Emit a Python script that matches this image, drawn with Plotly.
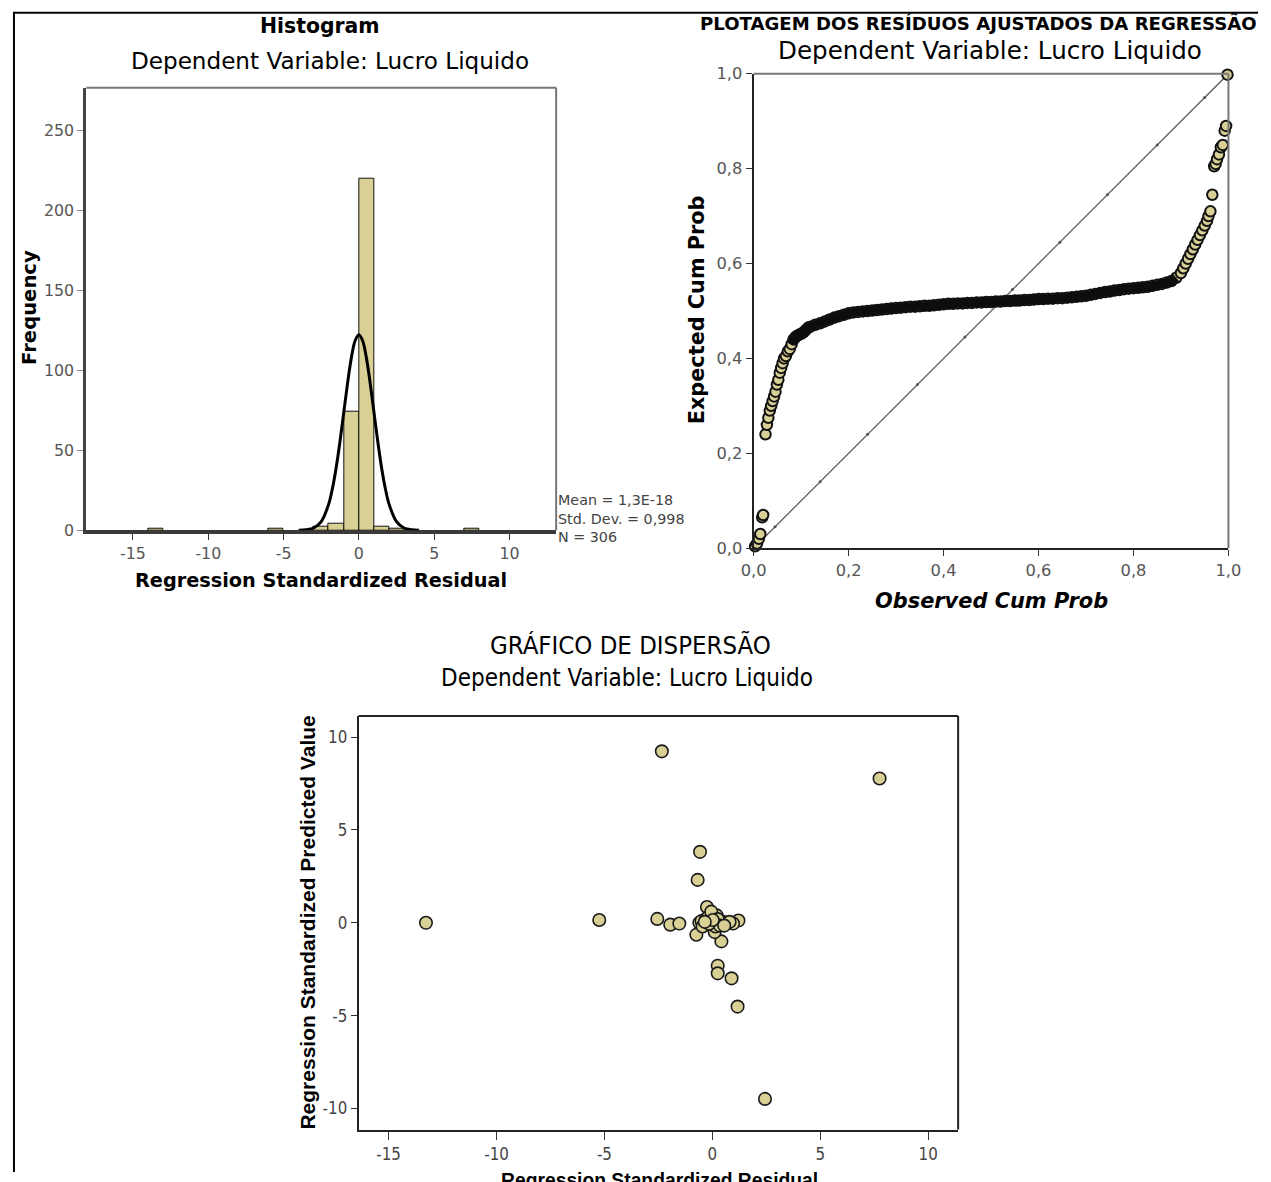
import plotly.graph_objects as go

W, H = 1271, 1182

# ---------------- data ----------------
hist_bin_centers = [-13.5, -5.5, -2.5, -1.5, -0.5, 0.5, 1.5, 2.5, 7.5]
hist_counts = [1, 1, 2, 4, 74, 220, 2, 1, 1]
hist_xticks = [-15, -10, -5, 0, 5, 10]
hist_xticktext = ["-15", "-10", "-5", "0", "5", "10"]
hist_yticks = [0, 50, 100, 150, 200, 250]
curve_x = [-4.0, -3.5, -3.0, -2.5, -2.0, -1.75, -1.5, -1.25, -1.0, -0.75, -0.5, -0.25, 0.0,
           0.25, 0.5, 0.75, 1.0, 1.25, 1.5, 1.75, 2.0, 2.5, 3.0, 3.5, 4.0]
curve_y = [0.04, 0.3, 1.4, 5.4, 16.5, 26.4, 39.6, 55.9, 74.0, 92.1, 107.9, 118.6, 122.3,
           118.6, 107.9, 92.1, 74.0, 55.9, 39.6, 26.4, 16.5, 5.4, 1.4, 0.3, 0.04]
stats_text = ["Mean = 1,3E-18", "Std. Dev. = 0,998", "N = 306"]

pp_observed = [0.003, 0.007, 0.011, 0.014, 0.018, 0.020, 0.025, 0.028, 0.031, 0.034, 0.037, 0.040,
               0.043, 0.046, 0.049, 0.052, 0.055, 0.058, 0.061, 0.064, 0.068, 0.072, 0.076, 0.080,
               0.084, 0.088, 0.092, 0.096, 0.100, 0.105, 0.110, 0.115,
               0.12, 0.13, 0.14, 0.15, 0.16, 0.17, 0.18, 0.19, 0.20, 0.21, 0.22, 0.23, 0.24, 0.25,
               0.26, 0.27, 0.28, 0.29, 0.30, 0.31, 0.32, 0.33, 0.34, 0.35, 0.36, 0.37, 0.38, 0.39,
               0.40, 0.41, 0.42, 0.43, 0.44, 0.45, 0.46, 0.47, 0.48, 0.49, 0.50, 0.51, 0.52, 0.53,
               0.54, 0.55, 0.56, 0.57, 0.58, 0.59, 0.60, 0.61, 0.62, 0.63, 0.64, 0.65, 0.66, 0.67,
               0.68, 0.69, 0.70, 0.71, 0.72, 0.73, 0.74, 0.75, 0.76, 0.77, 0.78, 0.79, 0.80, 0.81,
               0.82, 0.83, 0.84, 0.85, 0.86, 0.87, 0.88, 0.89,
               0.900, 0.905, 0.910, 0.915, 0.920, 0.925, 0.930, 0.935, 0.940, 0.945, 0.950, 0.955,
               0.958, 0.962, 0.966, 0.970, 0.973, 0.976, 0.980, 0.984, 0.988, 0.992, 0.995, 0.998]
pp_expected = [0.004, 0.010, 0.020, 0.030, 0.065, 0.070, 0.240, 0.260, 0.275, 0.290, 0.300, 0.310,
               0.320, 0.330, 0.345, 0.355, 0.370, 0.380, 0.390, 0.400, 0.405, 0.415, 0.420, 0.430,
               0.440, 0.445, 0.448, 0.450, 0.452, 0.455, 0.460, 0.465,
               0.467, 0.471, 0.474, 0.478, 0.482, 0.486, 0.489, 0.492, 0.495, 0.497, 0.498, 0.499,
               0.500, 0.501, 0.502, 0.503, 0.504, 0.505, 0.506, 0.507, 0.508, 0.509, 0.509, 0.510,
               0.511, 0.511, 0.512, 0.513, 0.514, 0.515, 0.515, 0.516, 0.516, 0.517, 0.517, 0.518,
               0.518, 0.519, 0.519, 0.520, 0.520, 0.521, 0.521, 0.522, 0.522, 0.523, 0.523, 0.524,
               0.525, 0.525, 0.526, 0.526, 0.527, 0.527, 0.528, 0.529, 0.530, 0.531, 0.532, 0.534,
               0.536, 0.538, 0.540, 0.541, 0.543, 0.544, 0.546, 0.547, 0.548, 0.549, 0.550, 0.551,
               0.553, 0.555, 0.557, 0.560, 0.563, 0.570,
               0.580, 0.590, 0.600, 0.610, 0.620, 0.630, 0.640, 0.650, 0.660, 0.670, 0.680, 0.690,
               0.700, 0.710, 0.745, 0.805, 0.810, 0.820, 0.830, 0.845, 0.850, 0.880, 0.890, 0.998]
pp_ref_x = [0.0, 0.045, 0.14, 0.24, 0.345, 0.445, 0.545, 0.645, 0.745, 0.85, 0.95, 1.0]
pp_ticks = [0.0, 0.2, 0.4, 0.6, 0.8, 1.0]
pp_ticktext = ["0,0", "0,2", "0,4", "0,6", "0,8", "1,0"]

sc_resid = [-13.27, -5.24, -2.34, 7.75, 2.44, -0.57, -0.68, -2.55, -1.95, -1.53, -0.74, 0.42,
            0.25, 0.25, 0.89, 1.17, -0.25, 1.21, 0.96, 0.11,
            -0.60, -0.50, -0.40, -0.30, -0.20, -0.10, 0.00, 0.05, 0.10, 0.20, 0.15, 0.30,
            0.40, 0.50, 0.60, 0.70, 0.80, -0.45, -0.05, 0.25, 0.35, -0.15, 0.02, -0.35, 0.55]
sc_pred = [0.00, 0.15, 9.23, 7.77, -9.48, 3.82, 2.31, 0.21, -0.10, -0.04, -0.64, -1.00,
           -2.31, -2.72, -2.99, -4.51, 0.85, 0.12, -0.04, -0.50,
           0.00, 0.10, -0.10, 0.20, 0.30, 0.05, 0.00, -0.10, 0.10, 0.40, -0.20, -0.05,
           0.00, 0.05, -0.05, 0.00, 0.05, -0.20, 0.60, 0.20, -0.15, -0.05, 0.15, 0.05, -0.15]
sc_xticks = [-15, -10, -5, 0, 5, 10]
sc_xticktext = ["-15", "-10", "-5", "0", "5", "10"]
sc_yticks = [-10, -5, 0, 5, 10]
sc_yticktext = ["-10", "-5", "0", "5", "10"]

# ---------------- layout helpers ----------------
TAN = "#d9d095"
# the photographed page shows up slightly shrunk and inset; positions below are
# given in reference-picture pixels and mapped back to page fractions
SX, OX = 0.982, 10.5
SY, OY = 0.985, 8.2


def px(x):
    return ((x - OX) / SX) / W


def py(y):
    return 1 - ((y - OY) / SY) / H


def fs(s):
    return round(s / SX, 1)


# P-P band (dense middle run where the markers merge into a dark band)
band_lo, band_hi = 0.08, 0.895
band_x = [o for o in pp_observed if band_lo <= o <= band_hi]
band_y = [e for o, e in zip(pp_observed, pp_expected) if band_lo <= o <= band_hi]

fig = go.Figure()

fig.add_trace(go.Bar(x=hist_bin_centers, y=hist_counts, width=1,
                     marker=dict(color=TAN, line=dict(color="#111", width=1)),
                     xaxis="x", yaxis="y", showlegend=False))
fig.add_trace(go.Scatter(x=curve_x, y=curve_y, mode="lines",
                         line=dict(color="black", width=3, shape="spline"),
                         xaxis="x", yaxis="y", showlegend=False))

fig.add_trace(go.Scatter(x=pp_ref_x, y=pp_ref_x, mode="lines+markers",
                         line=dict(color="#555", width=1.2), marker=dict(size=3, color="#555"),
                         xaxis="x2", yaxis="y2", showlegend=False))
fig.add_trace(go.Scatter(x=pp_observed, y=pp_expected, mode="markers",
                         marker=dict(size=10.5, color=TAN, line=dict(color="#111", width=2)),
                         xaxis="x2", yaxis="y2", showlegend=False, cliponaxis=False))
fig.add_trace(go.Scatter(x=band_x, y=band_y, mode="lines",
                         line=dict(color="#0d0d0d", width=9, shape="spline"),
                         xaxis="x2", yaxis="y2", showlegend=False))

fig.add_trace(go.Scatter(x=sc_resid, y=sc_pred, mode="markers",
                         marker=dict(size=12.5, color=TAN, line=dict(color="#1a1a1a", width=1.6)),
                         xaxis="x3", yaxis="y3", showlegend=False))

axis_common = dict(showgrid=False, zeroline=False, ticks="outside", ticklen=6, tickcolor="#333",
                   showline=True, linecolor="#222", fixedrange=True)
hist_font = dict(family="DejaVu Sans", size=fs(15.5), color="#555")
pp_font = dict(family="DejaVu Sans", size=fs(16), color="#555")
sc_font = dict(family="Liberation Sans Narrow, DejaVu Sans Condensed", size=fs(16.5), color="#444")

fig.update_layout(
    width=W, height=H, margin=dict(l=0, r=0, t=0, b=0),
    paper_bgcolor="white", plot_bgcolor="white", bargap=0,
    xaxis=dict(axis_common, domain=[px(84), px(555)], range=[-18.1, 13.1], tickvals=hist_xticks,
               ticktext=hist_xticktext, tickfont=hist_font, linewidth=4, linecolor="#3a3a3a",
               anchor="y", layer="below traces"),
    yaxis=dict(axis_common, domain=[py(530), py(87)], range=[0, 277], tickvals=hist_yticks,
               tickfont=hist_font, linewidth=3, linecolor="#444", tickcolor="#888", anchor="x"),
    xaxis2=dict(axis_common, domain=[px(753), px(1229)], range=[0, 1], tickvals=pp_ticks,
                ticktext=pp_ticktext, tickfont=pp_font, linewidth=2, anchor="y2"),
    yaxis2=dict(axis_common, domain=[py(548), py(73)], range=[0, 1], tickvals=pp_ticks,
                ticktext=pp_ticktext, tickfont=pp_font, linewidth=2, anchor="x2"),
    xaxis3=dict(axis_common, domain=[px(357), px(958)], range=[-16.39, 11.39], tickvals=sc_xticks,
                ticktext=sc_xticktext, tickfont=sc_font, linewidth=2, ticklen=8, anchor="y3"),
    yaxis3=dict(axis_common, domain=[py(1130), py(716)], range=[-11.13, 11.13], tickvals=sc_yticks,
                ticktext=sc_yticktext, tickfont=sc_font, linewidth=2, anchor="x3"),
)

shapes = [
    dict(type="line", xref="paper", yref="paper", x0=1 / W, x1=1 / W, y0=py(12), y1=0,
         line=dict(color="black", width=2)),
    dict(type="line", xref="paper", yref="paper", x0=0, x1=1, y0=py(12), y1=py(12),
         line=dict(color="black", width=2)),
    dict(type="line", xref="x domain", yref="y domain", x0=0, x1=1, y0=1, y1=1,
         line=dict(color="#777", width=2)),
    dict(type="line", xref="x domain", yref="y domain", x0=1, x1=1, y0=0, y1=1,
         line=dict(color="#777", width=2)),
    dict(type="line", xref="x2 domain", yref="y2 domain", x0=0, x1=1, y0=1, y1=1,
         line=dict(color="#777", width=2)),
    dict(type="line", xref="x2 domain", yref="y2 domain", x0=1, x1=1, y0=0, y1=1,
         line=dict(color="#777", width=2)),
    dict(type="line", xref="x3 domain", yref="y3 domain", x0=0, x1=1, y0=1, y1=1,
         line=dict(color="#222", width=2)),
    dict(type="line", xref="x3 domain", yref="y3 domain", x0=1, x1=1, y0=0, y1=1,
         line=dict(color="#222", width=2)),
]
fig.update_layout(shapes=shapes)


def ann(text, x, y, size, family="DejaVu Sans", bold=False, italic=False, angle=0, color="black",
        xanchor="center", yanchor="middle", align="center"):
    t = text
    if bold:
        t = "<b>" + t + "</b>"
    if italic:
        t = "<i>" + t + "</i>"
    return dict(text=t, x=px(x), y=py(y), xref="paper", yref="paper", showarrow=False,
                font=dict(family=family, size=fs(size), color=color), textangle=angle,
                xanchor=xanchor, yanchor=yanchor, align=align)


narrow = "Liberation Sans Narrow, DejaVu Sans Condensed"
annotations = [
    ann("Histogram", 318, 25, 20, bold=True),
    ann("Dependent Variable: Lucro Liquido", 328, 60, 22.7),
    ann("Regression Standardized Residual", 319, 580, 19, bold=True),
    ann("Frequency", 27, 307, 19.2, bold=True, angle=-90),
    ann("<br>".join(stats_text), 555, 518, 14, color="#444", xanchor="left", align="left"),
    ann("PLOTAGEM DOS RESÍDUOS AJUSTADOS DA REGRESSÃO", 978, 22.5, 17.8, bold=True),
    ann("Dependent Variable: Lucro Liquido", 990, 50, 24.2),
    ann("Observed Cum Prob", 991, 601, 20.5, bold=True, italic=True),
    ann("Expected Cum Prob", 697, 309, 20.4, bold=True, angle=-90),
    ann("GRÁFICO DE DISPERSÃO", 630, 645, 25, family=narrow),
    ann("Dependent Variable: Lucro Liquido", 626, 678, 23.6, family=narrow),
    ann("Regression Standardized Predicted Value", 306, 923, 20.6, family="Liberation Sans",
        bold=True, angle=-90),
    ann("Regression Standardized Residual", 659, 1168, 19, family="Liberation Sans", bold=True,
        yanchor="top"),
]
fig.update_layout(annotations=annotations)

post = ("document.body.style.margin='0';document.body.style.padding='0';"
        "document.documentElement.style.overflow='hidden';")
fig.write_html("out.html", config={"displayModeBar": False}, post_script=post)
